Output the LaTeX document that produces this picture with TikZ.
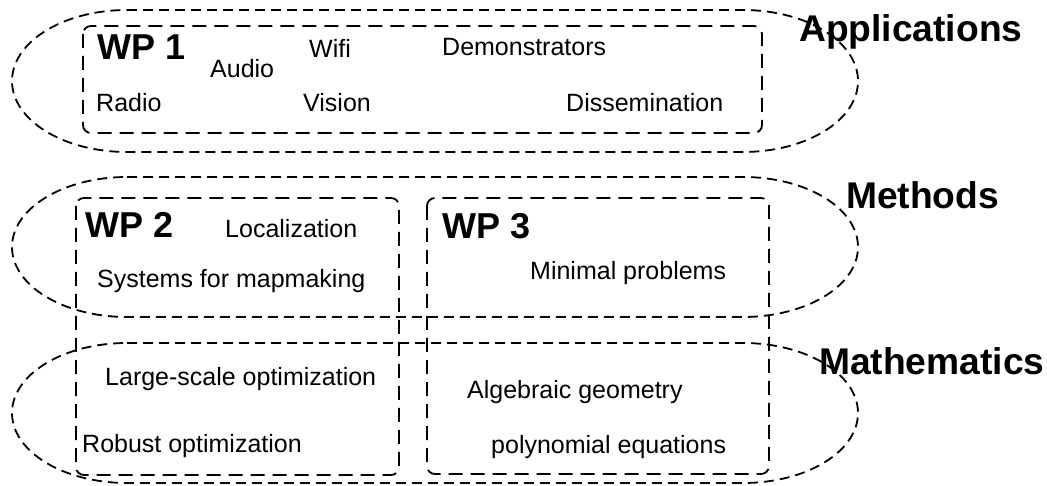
\documentclass[tikz,border=0pt]{standalone}
\usepackage{fontspec}
\setmainfont{Liberation Sans}
\tikzset{
  layer/.style={line width=1.8pt,dash pattern=on 10pt off 6pt},
  wpbox/.style={line width=1.8pt,dash pattern=on 14pt off 8pt,rounded corners=8pt},
  item/.style={inner sep=0pt,anchor=base west,font=\fontsize{25}{30}\selectfont},
  head/.style={inner sep=0pt,anchor=base west,font=\fontsize{37.2}{42}\selectfont\bfseries},
}

\begin{document}
\begin{tikzpicture}[x=1pt,y=-1pt]
  \useasboundingbox (0,0) rectangle (1047,486);
  % the three layers
  \foreach \ya/\yb/\ry in {10/152/71,177/317/70,343/483/70} {
    \draw[layer] (127,\ya) -- (743,\ya)
      arc[start angle=90,end angle=-90,x radius=115pt,y radius=\ry pt]
      -- (127,\yb)
      arc[start angle=270,end angle=90,x radius=115pt,y radius=\ry pt] -- cycle;
  }
  \node[head] (applications) at (799,42) {Applications};
  \node[head] (methods) at (846,209) {Methods};
  \node[head] (mathematics) at (819,374) {Mathematics};
  % work packages
  \draw[wpbox] (83,26) rectangle (762,133);
  \draw[wpbox] (76,198) rectangle (399,475);
  \draw[wpbox] (427,198) rectangle (769,474);
  \node[head,font=\fontsize{36}{42}\selectfont\bfseries] (wp1) at (97,60) {WP 1};
  \node[head,font=\fontsize{36}{42}\selectfont\bfseries] (wp2) at (85,238) {WP 2};
  \node[head,font=\fontsize{36}{42}\selectfont\bfseries] (wp3) at (442,239) {WP 3};
  % WP 1
  \node[item] (wifi) at (309,58) {Wifi};
  \node[item] (audio) at (210,78) {Audio};
  \node[item] (demo) at (442,56) {Demonstrators};
  \node[item] (radio) at (96,112) {Radio};
  \node[item] (vision) at (303,112) {Vision};
  \node[item] (dissem) at (566,112) {Dissemination};
  % WP 2
  \node[item] (loc) at (225,238) {Localization};
  \node[item] (mapping) at (97,288) {Systems for mapmaking};
  \node[item] (largescale) at (105,385) {Large-scale optimization};
  \node[item] (robust) at (82,452) {Robust optimization};
  % WP 3
  \node[item] (minimal) at (530,280) {Minimal problems};
  \node[item] (alggeom) at (467,398) {Algebraic geometry};
  \node[item] (polyeq) at (491,453) {polynomial equations};
\end{tikzpicture}
\end{document}
